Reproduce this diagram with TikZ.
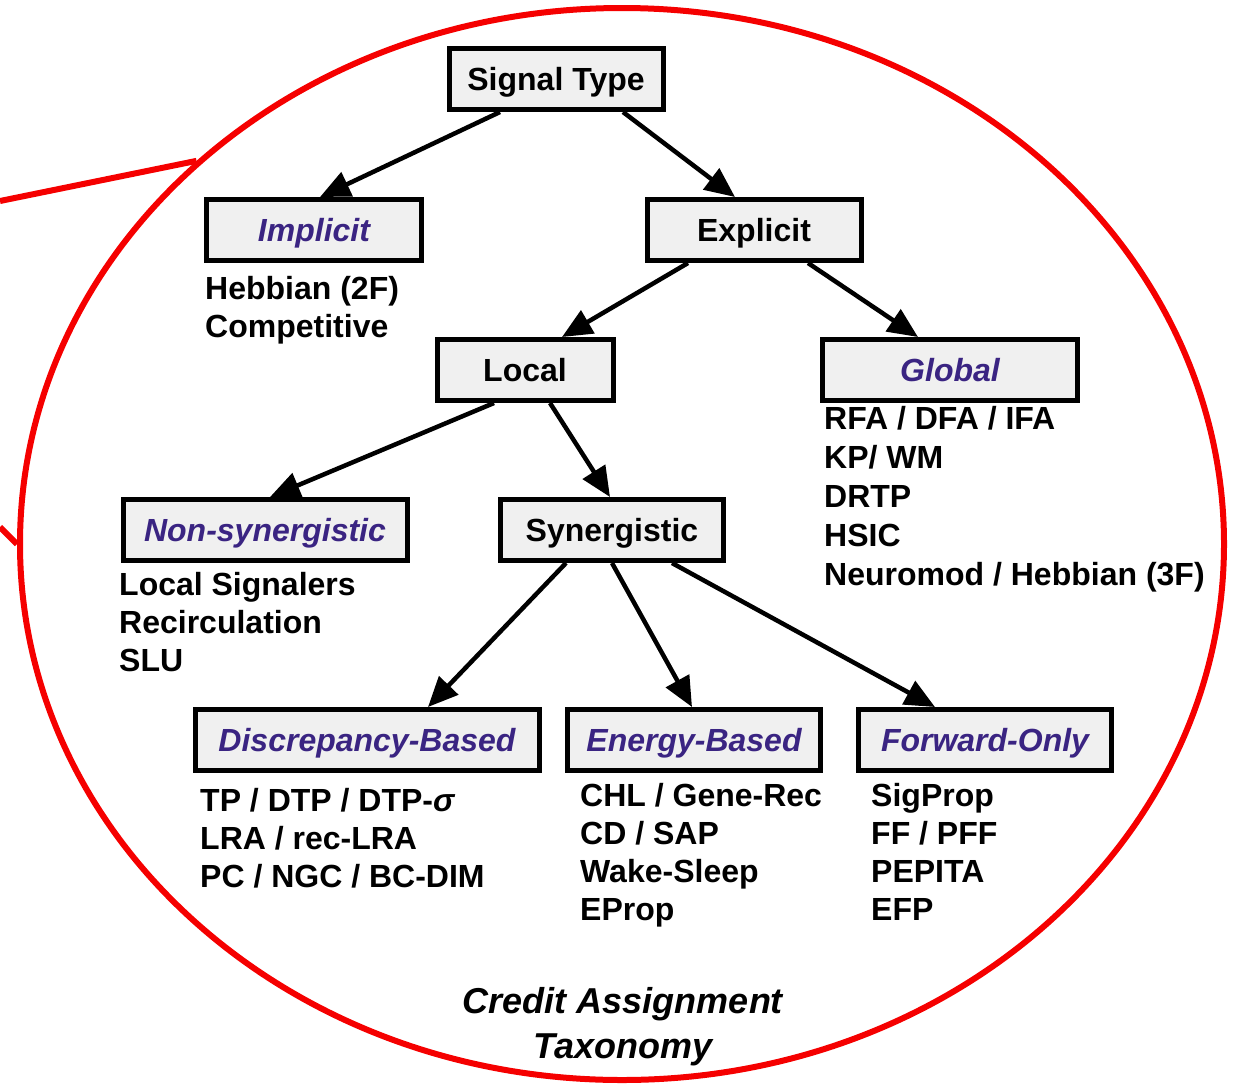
\documentclass[tikz,border=0pt]{standalone}
\usepackage{fontspec}
\setmainfont{Liberation Sans}
\usetikzlibrary{arrows.meta,shapes.geometric}
\definecolor{catpurple}{RGB}{58,36,130}
\definecolor{boxfill}{RGB}{240,240,240}
\definecolor{ringred}{RGB}{245,0,0}

\begin{document}
\begin{tikzpicture}[x=1pt,y=-1pt,
  catbox/.style={draw=black, line width=5pt, fill=boxfill, inner sep=0pt,
    minimum height=61pt, text height=23pt, text depth=0pt},
  branch/.style={catbox, text=black, font={\fontsize{32}{38}\selectfont\bfseries}},
  leaf/.style={catbox, text=catpurple, font={\fontsize{32}{38}\selectfont\bfseries\itshape}},
  methods/.style={anchor=base west, inner sep=0pt, font={\fontsize{32}{38.3}\selectfont\bfseries}},
  link/.style={line width=4.5pt, -{Triangle[length=30pt,width=26pt]}},
  callout/.style={draw=ringred, line width=6pt}
]
\useasboundingbox (0,0) rectangle (1242,1085);

% magnifier ring and its callout lines
\node[draw=ringred, line width=6pt, ellipse, minimum width=1204pt,
      minimum height=1072pt, inner sep=0pt] (ring) at (622,544) {};
\coordinate (c1) at (0,201);
\coordinate (c2) at (0,527);
\draw[callout] (c1) -- (ring.138.7);
\draw[callout] (c2) -- (ring.180);

% taxonomy boxes
\node[branch, minimum width=214pt] (sig)  at (556,79)  {Signal Type};
\node[leaf,   minimum width=215pt] (imp)  at (314,230) {Implicit};
\node[branch, minimum width=214pt] (expl) at (754,230) {Explicit};
\node[branch, minimum width=176pt] (loc)  at (525,370) {Local};
\node[leaf,   minimum width=255pt] (glob) at (950,370) {Global};
\node[leaf,   minimum width=284pt] (nsyn) at (265,530) {Non-synergistic};
\node[branch, minimum width=223pt] (syn)  at (612,530) {Synergistic};
\node[leaf,   minimum width=344pt] (disc) at (367,740) {Discrepancy-Based};
\node[leaf,   minimum width=253pt] (ebm)  at (694,740) {Energy-Based};
\node[leaf,   minimum width=253pt] (fwd)  at (985,740) {Forward-Only};

% method lists under the boxes
\node[methods] (implist) at (205,299)
  {\begin{tabular}[t]{@{}l@{}}Hebbian (2F)\\Competitive\end{tabular}};
\node[methods, font={\fontsize{32}{39}\selectfont\bfseries}] (globlist) at (824,429)
  {\begin{tabular}[t]{@{}l@{}}RFA / DFA / IFA\\KP/ WM\\DRTP\\HSIC\\Neuromod / Hebbian (3F)\end{tabular}};
\node[methods] (nsynlist) at (119,595)
  {\begin{tabular}[t]{@{}l@{}}Local Signalers\\Recirculation\\SLU\end{tabular}};
\node[methods] (disclist) at (200,811)
  {\begin{tabular}[t]{@{}l@{}}TP / DTP / DTP-{\itshape σ}\\LRA / rec-LRA\\PC / NGC / BC-DIM\end{tabular}};
\node[methods] (ebmlist) at (580,806)
  {\begin{tabular}[t]{@{}l@{}}CHL / Gene-Rec\\CD / SAP\\Wake-Sleep\\EProp\end{tabular}};
\node[methods] (fwdlist) at (871,806)
  {\begin{tabular}[t]{@{}l@{}}SigProp\\FF / PFF\\PEPITA\\EFP\end{tabular}};

% caption
\node[anchor=base, inner sep=0pt, font={\fontsize{36}{45}\selectfont\bfseries\itshape}] (title) at (623,1013)
  {\begin{tabular}[t]{@{}c@{}}Credit Assignment\\Taxonomy\end{tabular}};

% connectors
\draw[link] ([xshift=-56pt]sig.south)  -- ([xshift=6pt]imp.north);
\draw[link] ([xshift=67pt]sig.south)   -- ([xshift=-19pt]expl.north);
\draw[link] ([xshift=-66pt]expl.south) -- ([xshift=37pt]loc.north);
\draw[link] ([xshift=54pt]expl.south)  -- ([xshift=-32pt]glob.north);
\draw[link] ([xshift=-31pt]loc.south)  -- ([xshift=5pt]nsyn.north);
\draw[link] ([xshift=25pt]loc.south)   -- ([xshift=-2pt]syn.north);
\draw[link] ([xshift=-46pt]syn.south)  -- ([xshift=61pt]disc.north);
\draw[link] (syn.south)                -- ([xshift=-2pt]ebm.north);
\draw[link] ([xshift=60pt]syn.south)   -- ([xshift=-50pt]fwd.north);
\end{tikzpicture}
\end{document}
